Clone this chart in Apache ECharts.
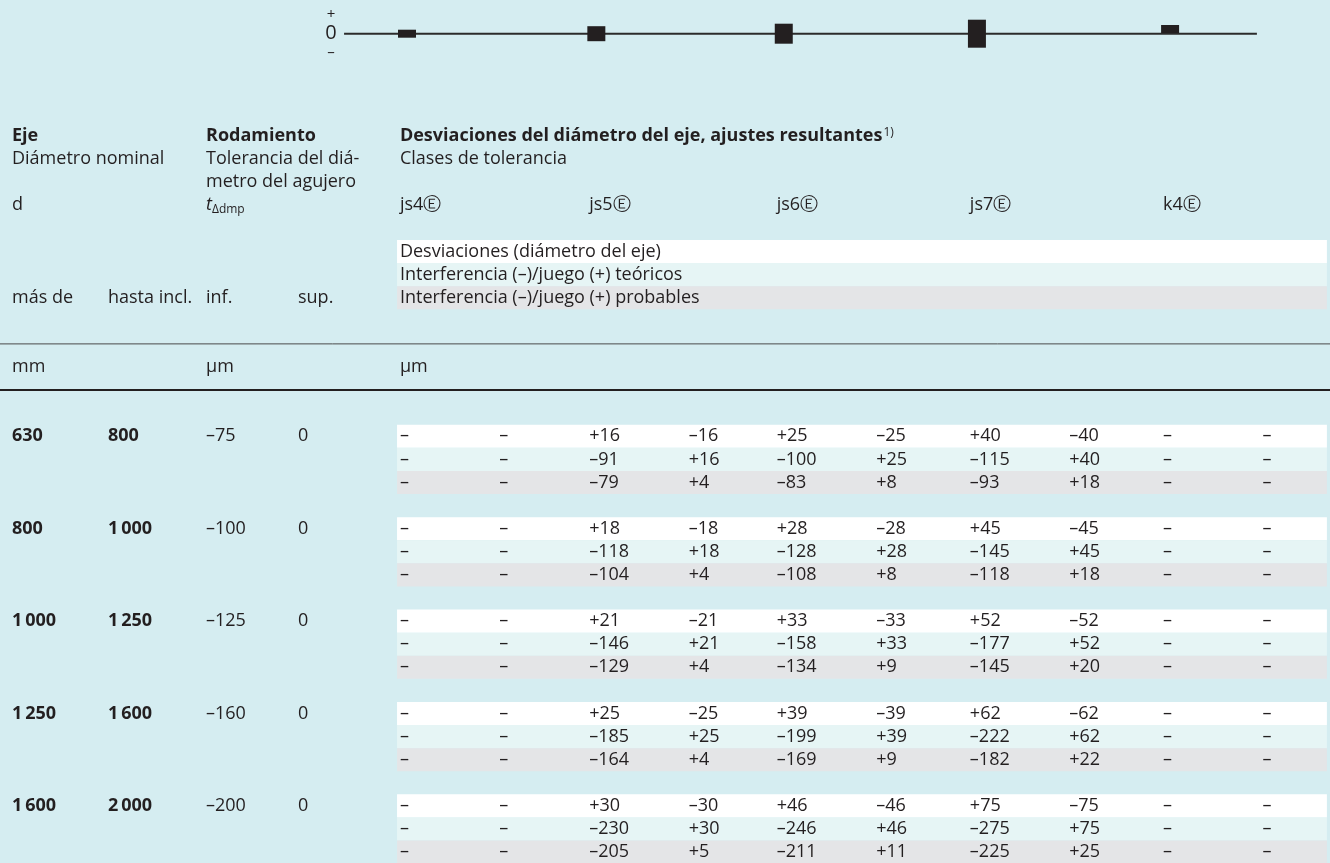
<!DOCTYPE html>
<html><head><meta charset="utf-8">
<script src="https://cdn.jsdelivr.net/npm/echarts@6/dist/echarts.min.js"></script>
<style>html,body{margin:0;padding:0;background:#d5edf1;}#c{width:1330px;height:863px;}</style>
</head><body><div id="c"></div>
<script>
// ---------- data ----------
const classes = ['js4', 'js5', 'js6', 'js7', 'k4'];
const diagramUpper = [4, 7.5, 10, 14, 8.7];
const diagramLower = [-4, -7.5, -10, -14, 0.7];
const nominalFrom = ['630', '800', '1\u2009000', '1\u2009250', '1\u2009600'];
const nominalTo = ['800', '1\u2009000', '1\u2009250', '1\u2009600', '2\u2009000'];
const boreLower = [-75, -100, -125, -160, -200];
const boreUpper = [0, 0, 0, 0, 0];
const legendRows = ['Desviaciones (diámetro del eje)', 'Interferencia (–)/juego (+) teóricos', 'Interferencia (–)/juego (+) probables'];
// per class: [deviation pair, theoretical pair, probable pair] per group; null = "–"
const js5Dev  = [[16, -16], [18, -18], [21, -21], [25, -25], [30, -30]];
const js5Theo = [[-91, 16], [-118, 18], [-146, 21], [-185, 25], [-230, 30]];
const js5Prob = [[-79, 4], [-104, 4], [-129, 4], [-164, 4], [-205, 5]];
const js6Dev  = [[25, -25], [28, -28], [33, -33], [39, -39], [46, -46]];
const js6Theo = [[-100, 25], [-128, 28], [-158, 33], [-199, 39], [-246, 46]];
const js6Prob = [[-83, 8], [-108, 8], [-134, 9], [-169, 9], [-211, 11]];
const js7Dev  = [[40, -40], [45, -45], [52, -52], [62, -62], [75, -75]];
const js7Theo = [[-115, 40], [-145, 45], [-177, 52], [-222, 62], [-275, 75]];
const js7Prob = [[-93, 18], [-118, 18], [-145, 20], [-182, 22], [-225, 25]];

// ---------- layout ----------
const PX = 191.25;
const X_MIN = -398 / PX, X_MAX = (1330 - 398) / PX;
const leftCols = [12, 108, 206, 298].map(p => (p - 398) / PX);
const classX = [0.01, 1.0, 1.98, 2.99, 4.0];
const pairOff = 0.52;
const ROW = 23.1, ROW0 = 136;
const Y_MIN = -ROW0 / ROW, Y_MAX = (863 - ROW0) / ROW;
const FONT = '"Open Sans", "Noto Sans", sans-serif';
const FS = 18;
const TXT = '#231f20';
const BAND = ['#ffffff', '#e6f5f5', '#e4e5e7'];

function fmt(v) {
  if (v === null || v === undefined) return '–';
  if (v > 0) return '+' + v;
  if (v < 0) return '–' + Math.abs(v);
  return '0';
}

const classData = [
  null,
  [js5Dev, js5Theo, js5Prob],
  [js6Dev, js6Theo, js6Prob],
  [js7Dev, js7Theo, js7Prob],
  null
];

// ---------- cells ----------
const cells = [];
function cell(x, r, text, opt) { cells.push(Object.assign({x, r, text}, opt || {})); }
cell(leftCols[0], 0, 'Eje', {bold: true});
cell(leftCols[2], 0, 'Rodamiento', {bold: true});
cell(classX[0], 0, '{b|Desviaciones del diámetro del eje, ajustes resultantes}{sup|1)}', {rich: true});
cell(leftCols[0], 1, 'Diámetro nominal');
cell(leftCols[2], 1, 'Tolerancia del diá-');
cell(classX[0], 1, 'Clases de tolerancia');
cell(leftCols[2], 2, 'metro del agujero');
cell(leftCols[0], 3, 'd');
cell(leftCols[2], 3, '{it|t}{sub|Δdmp}', {rich: true});
classes.forEach((c, i) => cell(classX[i], 3, c + 'Ⓔ'));
legendRows.forEach((t, i) => cell(classX[0], 5 + i, t));
cell(leftCols[0], 7, 'más de');
cell(leftCols[1], 7, 'hasta incl.');
cell(leftCols[2], 7, 'inf.');
cell(leftCols[3], 7, 'sup.');
cell(leftCols[0], 10, 'mm');
cell(leftCols[2], 10, 'μm');
cell(classX[0], 10, 'μm');
for (let g = 0; g < nominalFrom.length; g++) {
  const r0 = 13 + 4 * g;
  cell(leftCols[0], r0, nominalFrom[g], {bold: true});
  cell(leftCols[1], r0, nominalTo[g], {bold: true});
  cell(leftCols[2], r0, fmt(boreLower[g]));
  cell(leftCols[3], r0, fmt(boreUpper[g]));
  for (let k = 0; k < 3; k++) {
    classes.forEach((c, i) => {
      const d = classData[i];
      const pair = d ? d[k][g] : [null, null];
      cell(classX[i], r0 + k, fmt(pair[0]));
      cell(classX[i] + pairOff, r0 + k, fmt(pair[1]));
    });
  }
}

// ---------- bands & rules ----------
const bands = [];
for (let k = 0; k < 3; k++) bands.push([classX[0] - 0.015, 4.857, 5 + k, k]);
for (let g = 0; g < nominalFrom.length; g++)
  for (let k = 0; k < 3; k++) bands.push([classX[0] - 0.015, 4.857, 13 + 4 * g + k, k]);
const rules = [[X_MIN, X_MAX, 9, 1], [X_MIN, X_MAX, 11, 2]];

const chart = echarts.init(document.getElementById('c'), null, {renderer: 'canvas'});
chart.setOption({
  animation: false,
  backgroundColor: '#d5edf1',
  grid: [
    {left: 0, right: 0, top: 13.7, height: 40},
    {left: 0, right: 0, top: 0, height: 863}
  ],
  xAxis: [
    {type: 'value', gridIndex: 0, min: X_MIN, max: X_MAX, show: false},
    {type: 'value', gridIndex: 1, min: X_MIN, max: X_MAX, show: false}
  ],
  yAxis: [
    {type: 'value', gridIndex: 0, min: -20, max: 20, show: false},
    {type: 'value', gridIndex: 1, min: Y_MIN, max: Y_MAX, inverse: true, show: false}
  ],
  series: [
    {
      type: 'custom', xAxisIndex: 1, yAxisIndex: 1, z: 1,
      data: bands,
      renderItem: (p, api) => {
        const a = api.coord([api.value(0), api.value(2) - 0.5]);
        const b = api.coord([api.value(1), api.value(2) + 0.5]);
        return {type: 'rect', shape: {x: a[0], y: a[1], width: b[0] - a[0], height: b[1] - a[1]},
          style: {fill: BAND[api.value(3)]}};
      }
    },
    {
      type: 'custom', xAxisIndex: 1, yAxisIndex: 1, z: 2,
      data: rules,
      renderItem: (p, api) => {
        const a = api.coord([api.value(0), api.value(2)]);
        const b = api.coord([api.value(1), api.value(2)]);
        const w = api.value(3);
        return {type: 'line', shape: {x1: a[0], y1: a[1], x2: b[0], y2: b[1]},
          style: {stroke: w > 1 ? '#231f20' : '#4a4a4a', lineWidth: w}};
      }
    },
    {
      type: 'custom', xAxisIndex: 1, yAxisIndex: 1, z: 3,
      data: cells.map(c => [c.x, c.r]),
      renderItem: (p, api) => {
        const c = cells[p.dataIndex];
        const pt = api.coord([api.value(0), api.value(1)]);
        return {type: 'text', x: pt[0], y: pt[1], style: {
          text: c.text, fill: TXT, fontFamily: FONT, fontSize: FS,
          fontWeight: c.bold ? 'bold' : 'normal', align: 'left', verticalAlign: 'middle',
          rich: c.rich ? {
            b: {fontFamily: FONT, fontSize: FS, fontWeight: 'bold', fill: TXT},
            sup: {fontFamily: FONT, fontSize: 12, fill: TXT, verticalAlign: 'top', padding: [0, 0, 7, 1]},
            it: {fontFamily: FONT, fontSize: FS, fontStyle: 'italic', fill: TXT},
            sub: {fontFamily: FONT, fontSize: 12, fill: TXT, verticalAlign: 'bottom', padding: [9, 0, 0, 0]}
          } : undefined
        }};
      }
    },
    {
      type: 'line', xAxisIndex: 0, yAxisIndex: 0, z: 2, symbol: 'none',
      data: [[-0.282, 0], [4.491, 0]],
      lineStyle: {color: '#2b2b2b', width: 2}
    },
    {
      type: 'custom', xAxisIndex: 0, yAxisIndex: 0, z: 3,
      data: classes.map((c, i) => [classX[i] - 0.01, diagramLower[i], diagramUpper[i]]),
      renderItem: (p, api) => {
        const a = api.coord([api.value(0), api.value(2)]);
        const b = api.coord([api.value(0) + 18 / PX, api.value(1)]);
        return {type: 'rect', shape: {x: a[0], y: a[1], width: b[0] - a[0], height: b[1] - a[1]},
          style: {fill: '#231f20'}};
      }
    },
    {
      type: 'custom', xAxisIndex: 0, yAxisIndex: 0, z: 3,
      data: [[-0.35, 18.7], [-0.35, 0], [-0.35, -19.3]],
      renderItem: (p, api) => {
        const pt = api.coord([api.value(0), api.value(1)]);
        return {type: 'text', x: pt[0], y: pt[1], style: {
          text: ['+', '0', '–'][p.dataIndex], fill: TXT, fontFamily: FONT,
          fontSize: p.dataIndex === 1 ? 20 : 15, align: 'center', verticalAlign: 'middle'}};
      }
    }
  ]
});
</script></body></html>
